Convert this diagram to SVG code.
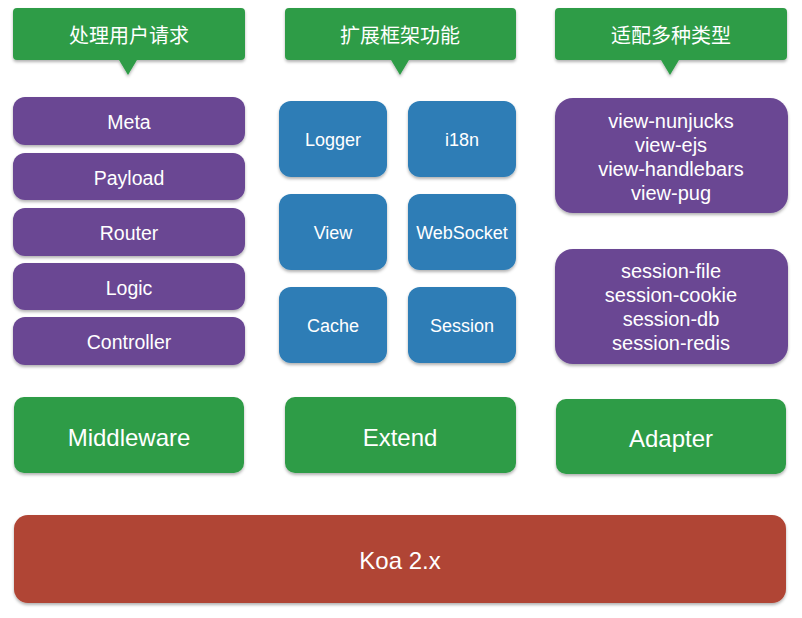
<svg xmlns="http://www.w3.org/2000/svg" width="802" height="618" viewBox="0 0 802 618">
<defs>
<filter id="sh" x="-10%" y="-10%" width="120%" height="130%">
<feDropShadow dx="0" dy="2" stdDeviation="1.5" flood-color="#000" flood-opacity="0.3"/>
</filter>
</defs>
<style>
.g{fill:#2f9c47;filter:url(#sh)}
.p{fill:#6a4793;filter:url(#sh)}
.b{fill:#2d7db6;filter:url(#sh)}
.r{fill:#b04434;filter:url(#sh)}
text{font-family:"Liberation Sans","Noto Sans CJK SC",sans-serif;fill:#fff;text-anchor:middle;dominant-baseline:central}
.cn{font-family:"Noto Sans CJK SC",sans-serif;font-size:20px}
.m{font-size:19.5px}
.v{font-size:20px}
.s{font-size:18px}
.l{font-size:24px}
</style>
<g id="callout-1"><path class="g" d="M17 8 H241 Q245 8 245 12 V56 Q245 60 241 60 H137 L128 75 L119 60 H17 Q13 60 13 56 V12 Q13 8 17 8 Z"/><text class="cn" x="129" y="34">处理用户请求</text></g>
<g id="callout-2"><path class="g" d="M289 8 H512 Q516 8 516 12 V56 Q516 60 512 60 H409 L400 75 L391 60 H289 Q285 60 285 56 V12 Q285 8 289 8 Z"/><text class="cn" x="400" y="34">扩展框架功能</text></g>
<g id="callout-3"><path class="g" d="M559 8 H783 Q787 8 787 12 V56 Q787 60 783 60 H679 L670 75 L661 60 H559 Q555 60 555 56 V12 Q555 8 559 8 Z"/><text class="cn" x="671" y="34">适配多种类型</text></g>

<g id="meta"><rect class="p" x="13" y="97" width="232" height="48" rx="12"/><text class="m" x="129" y="122">Meta</text></g>
<g id="payload"><rect class="p" x="13" y="153" width="232" height="47" rx="12"/><text class="m" x="129" y="178">Payload</text></g>
<g id="router"><rect class="p" x="13" y="208" width="232" height="48" rx="12"/><text class="m" x="129" y="233">Router</text></g>
<g id="logic"><rect class="p" x="13" y="263" width="232" height="47" rx="12"/><text class="m" x="129" y="288">Logic</text></g>
<g id="controller"><rect class="p" x="13" y="317" width="232" height="48" rx="12"/><text class="m" x="129" y="342">Controller</text></g>

<g id="logger"><rect class="b" x="279" y="101" width="108" height="76" rx="12"/><text class="s" x="333" y="140">Logger</text></g>
<g id="i18n"><rect class="b" x="408" y="101" width="108" height="76" rx="12"/><text class="s" x="462" y="140">i18n</text></g>
<g id="view"><rect class="b" x="279" y="194" width="108" height="76" rx="12"/><text class="s" x="333" y="233">View</text></g>
<g id="websocket"><rect class="b" x="408" y="194" width="108" height="76" rx="12"/><text class="s" x="462" y="233">WebSocket</text></g>
<g id="cache"><rect class="b" x="279" y="287" width="108" height="76" rx="12"/><text class="s" x="333" y="326">Cache</text></g>
<g id="session"><rect class="b" x="408" y="287" width="108" height="76" rx="12"/><text class="s" x="462" y="326">Session</text></g>

<g id="view-adapters"><rect class="p" x="555" y="98" width="233" height="115" rx="18"/>
<text class="v" x="671" y="121">view-nunjucks</text><text class="v" x="671" y="145">view-ejs</text><text class="v" x="671" y="169">view-handlebars</text><text class="v" x="671" y="193">view-pug</text></g>
<g id="session-adapters"><rect class="p" x="555" y="249" width="233" height="115" rx="18"/>
<text class="v" x="671" y="271">session-file</text><text class="v" x="671" y="295">session-cookie</text><text class="v" x="671" y="319">session-db</text><text class="v" x="671" y="343">session-redis</text></g>

<g id="middleware"><rect class="g" x="14" y="397" width="230" height="76" rx="10"/><text class="l" x="129" y="437">Middleware</text></g>
<g id="extend"><rect class="g" x="285" y="397" width="231" height="76" rx="10"/><text class="l" x="400" y="437">Extend</text></g>
<g id="adapter"><rect class="g" x="556" y="399" width="230" height="75" rx="10"/><text class="l" x="671" y="438">Adapter</text></g>

<g id="koa"><rect class="r" x="14" y="515" width="772" height="88" rx="14"/><text class="l" x="400" y="560">Koa 2.x</text></g>
<g id="connectors"></g>
</svg>
